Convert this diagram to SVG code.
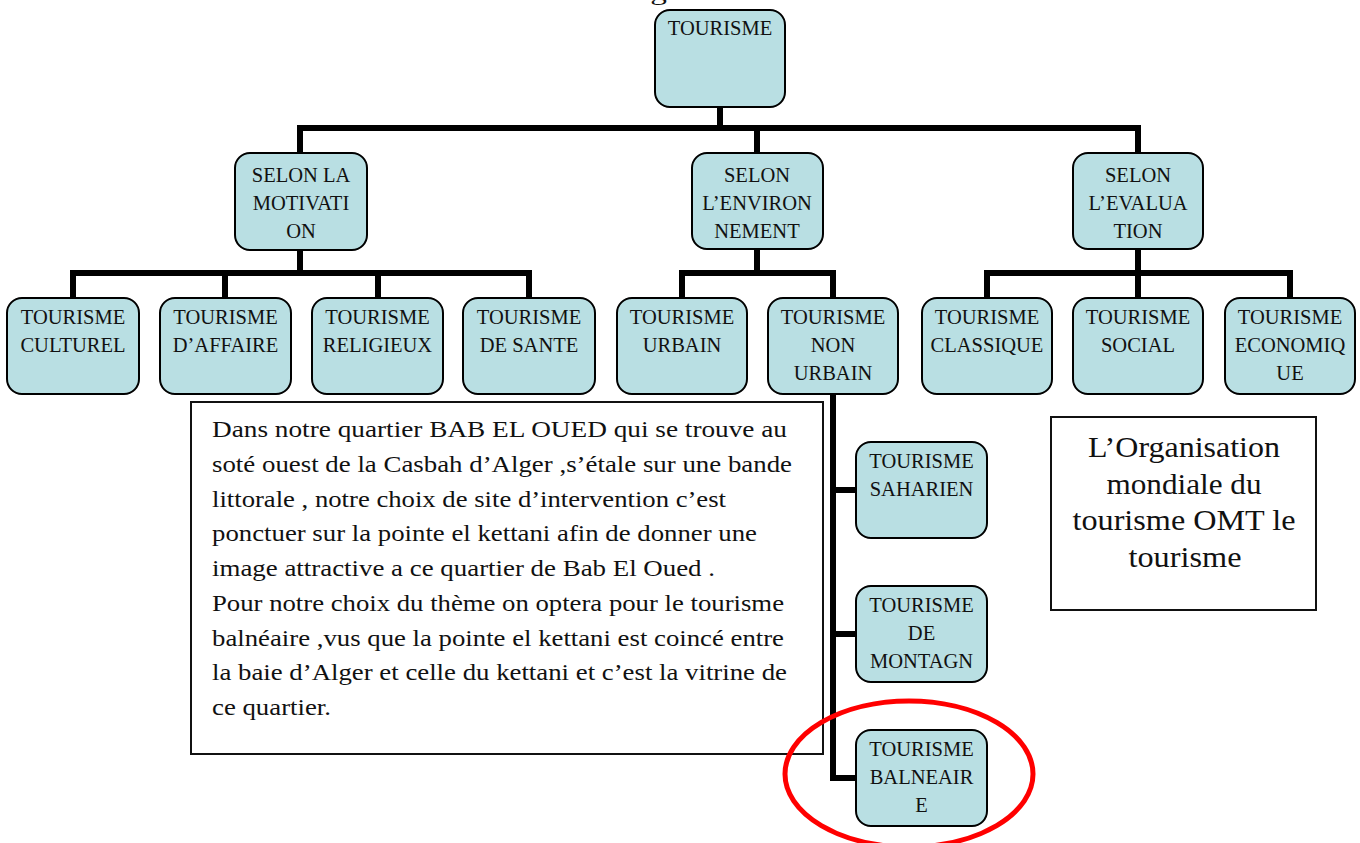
<svg xmlns="http://www.w3.org/2000/svg" width="1360" height="843" viewBox="0 0 1360 843">
<style>
.node rect{fill:#b9dfe3;stroke:#000;stroke-width:2}
.node text{font-family:"Liberation Serif","Times New Roman",serif;font-size:20.5px;fill:#111;text-anchor:middle}
.conn{stroke:#000;stroke-width:6;fill:none;stroke-linecap:square}
.para{font-family:"Liberation Serif","Times New Roman",serif;font-size:24px;fill:#111}
.omt{font-family:"Liberation Serif","Times New Roman",serif;font-size:29px;fill:#111;text-anchor:middle}
.box{fill:#fff;stroke:#111;stroke-width:2}
</style>
<rect width="1360" height="843" fill="#fff"/>
<text x="167" y="0.3" class="para" textLength="918" lengthAdjust="spacingAndGlyphs">Classification du tourisme selon l’organisation mondiale du tourisme</text>

<g id="connectors">
<path class="conn" d="M720 107V128M300 128H1138M300 128V153M757 128V153M1138 128V153"/>
<path class="conn" d="M300 250V273M73 273H529M73 273V298M225 273V298M378 273V298M529 273V298"/>
<path class="conn" d="M757 249V273M682 273H833M682 273V298M833 273V298"/>
<path class="conn" d="M1138 249V273M987 273H1290M987 273V298M1138 273V298M1290 273V298"/>
<path class="conn" d="M833 394V778M833 490H856M833 634H856M833 778H856"/>
</g>

<g id="n-root" class="node"><rect x="655" y="10" width="130" height="97" rx="15"/><text x="720" y="35">TOURISME</text></g>

<g id="n-motivation" class="node"><rect x="235" y="153" width="132" height="97" rx="15"/><text x="301" y="182">SELON LA</text><text x="301" y="210">MOTIVATI</text><text x="301" y="238">ON</text></g>
<g id="n-environnement" class="node"><rect x="692" y="153" width="131" height="96" rx="15"/><text x="757" y="182">SELON</text><text x="757" y="210">L’ENVIRON</text><text x="757" y="238">NEMENT</text></g>
<g id="n-evaluation" class="node"><rect x="1073" y="153" width="130" height="96" rx="15"/><text x="1138" y="182">SELON</text><text x="1138" y="210">L’EVALUA</text><text x="1138" y="238">TION</text></g>

<g id="n-culturel" class="node"><rect x="7" y="298" width="132" height="96" rx="15"/><text x="73" y="324">TOURISME</text><text x="73" y="352">CULTUREL</text></g>
<g id="n-affaire" class="node"><rect x="160" y="298" width="131" height="96" rx="15"/><text x="225.5" y="324">TOURISME</text><text x="225.5" y="352">D’AFFAIRE</text></g>
<g id="n-religieux" class="node"><rect x="312" y="298" width="131" height="96" rx="15"/><text x="377.5" y="324">TOURISME</text><text x="377.5" y="352">RELIGIEUX</text></g>
<g id="n-sante" class="node"><rect x="463" y="298" width="132" height="96" rx="15"/><text x="529" y="324">TOURISME</text><text x="529" y="352">DE SANTE</text></g>
<g id="n-urbain" class="node"><rect x="617" y="298" width="130" height="96" rx="15"/><text x="682" y="324">TOURISME</text><text x="682" y="352">URBAIN</text></g>
<g id="n-nonurbain" class="node"><rect x="768" y="298" width="130" height="96" rx="15"/><text x="833" y="324">TOURISME</text><text x="833" y="352">NON</text><text x="833" y="380">URBAIN</text></g>
<g id="n-classique" class="node"><rect x="922" y="298" width="130" height="96" rx="15"/><text x="987" y="324">TOURISME</text><text x="987" y="352">CLASSIQUE</text></g>
<g id="n-social" class="node"><rect x="1073" y="298" width="130" height="96" rx="15"/><text x="1138" y="324">TOURISME</text><text x="1138" y="352">SOCIAL</text></g>
<g id="n-economique" class="node"><rect x="1225" y="298" width="130" height="96" rx="15"/><text x="1290" y="324">TOURISME</text><text x="1290" y="352">ECONOMIQ</text><text x="1290" y="380">UE</text></g>

<g id="n-saharien" class="node"><rect x="856" y="442" width="131" height="96" rx="15"/><text x="921.5" y="468">TOURISME</text><text x="921.5" y="496">SAHARIEN</text></g>
<g id="n-montagne" class="node"><rect x="856" y="586" width="131" height="96" rx="15"/><text x="921.5" y="612">TOURISME</text><text x="921.5" y="640">DE</text><text x="921.5" y="668">MONTAGN</text></g>
<g id="n-balneaire" class="node"><rect x="856" y="730" width="131" height="96" rx="15"/><text x="921.5" y="756">TOURISME</text><text x="921.5" y="784">BALNEAIR</text><text x="921.5" y="812">E</text></g>

<g id="textbox">
<rect class="box" x="191" y="402" width="632" height="352"/>
<text class="para" x="212" y="437" textLength="575" lengthAdjust="spacingAndGlyphs">Dans notre quartier BAB EL OUED qui se trouve au</text>
<text class="para" x="212" y="472" textLength="580" lengthAdjust="spacingAndGlyphs">soté ouest de la Casbah d’Alger ,s’étale sur une bande</text>
<text class="para" x="212" y="507" textLength="514" lengthAdjust="spacingAndGlyphs">littorale , notre choix de site d’intervention c’est</text>
<text class="para" x="212" y="541" textLength="545" lengthAdjust="spacingAndGlyphs">ponctuer sur la pointe el kettani afin de donner une</text>
<text class="para" x="212" y="576" textLength="503" lengthAdjust="spacingAndGlyphs">image attractive a ce quartier de Bab El Oued .</text>
<text class="para" x="212" y="611" textLength="572" lengthAdjust="spacingAndGlyphs">Pour notre choix du thème on optera pour le tourisme</text>
<text class="para" x="212" y="646" textLength="572" lengthAdjust="spacingAndGlyphs">balnéaire ,vus que la pointe el kettani est coincé entre</text>
<text class="para" x="212" y="680" textLength="575" lengthAdjust="spacingAndGlyphs">la baie d’Alger et celle du kettani et c’est la vitrine de</text>
<text class="para" x="212" y="715" textLength="119" lengthAdjust="spacingAndGlyphs">ce quartier.</text>
</g>

<g id="omtbox">
<rect class="box" x="1051" y="417" width="265" height="193"/>
<text class="omt" x="1184" y="457" textLength="192" lengthAdjust="spacingAndGlyphs">L’Organisation</text>
<text class="omt" x="1184" y="494" textLength="155" lengthAdjust="spacingAndGlyphs">mondiale du</text>
<text class="omt" x="1184" y="530" textLength="223" lengthAdjust="spacingAndGlyphs">tourisme OMT le</text>
<text class="omt" x="1185" y="567" textLength="113" lengthAdjust="spacingAndGlyphs">tourisme</text>
</g>

<ellipse id="highlight" cx="909" cy="774" rx="124" ry="73" fill="none" stroke="#f00" stroke-width="5"/>
</svg>
